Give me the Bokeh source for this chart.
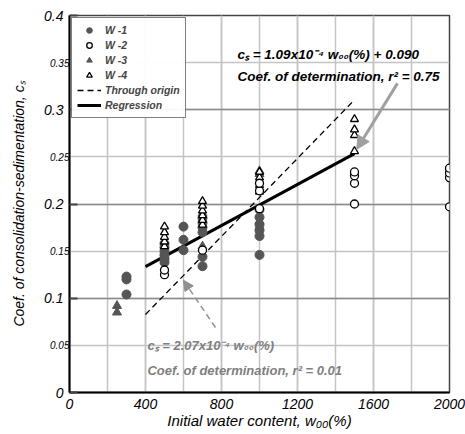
from bokeh.plotting import figure
from bokeh.models import (SingleIntervalTicker, FixedTicker, LinearAxis, Legend, LegendItem, Label,
                          Arrow, NormalHead)
from bokeh.embed import file_html
from bokeh.resources import INLINE

# ---- data ----
w1_x = [300, 300, 300, 500, 500, 500, 500, 500, 500, 600, 600, 600,
        700, 700, 700, 700, 700, 700, 1000, 1000, 1000, 1000, 1000, 1000]
w1_y = [0.104, 0.120, 0.123, 0.138, 0.142, 0.146, 0.150, 0.154, 0.158, 0.151, 0.162, 0.176,
        0.134, 0.144, 0.170, 0.175, 0.180, 0.185, 0.146, 0.166, 0.172, 0.178, 0.186, 0.194]
w2_x = [500, 500, 700, 1000, 1000, 1000, 1500, 1500, 1500, 1500, 2000, 2000, 2000, 2000]
w2_y = [0.125, 0.130, 0.151, 0.195, 0.214, 0.222, 0.200, 0.222, 0.230, 0.234,
        0.197, 0.228, 0.233, 0.238]
w3_x = [250, 250, 500, 500, 700, 700, 1000, 1000, 1000, 1000]
w3_y = [0.085, 0.092, 0.143, 0.148, 0.155, 0.190, 0.176, 0.182, 0.232, 0.235]
w4_x = [500, 500, 500, 500, 500, 700, 700, 700, 700, 700, 700,
        1000, 1000, 1000, 1000, 1500, 1500, 1500, 1500]
w4_y = [0.155, 0.160, 0.165, 0.170, 0.176, 0.178, 0.183, 0.188, 0.193, 0.198, 0.203,
        0.213, 0.220, 0.228, 0.234, 0.256, 0.273, 0.279, 0.290]

fit_x = [400, 1500]
reg_slope, reg_icpt = 1.09e-4, 0.090
orig_slope = 2.07e-4
reg_y = [reg_slope * v + reg_icpt for v in fit_x]
orig_y = [orig_slope * v for v in fit_x]

minor_y_ticks = [0.05, 0.15, 0.25, 0.35]
minor_y_labels = ["0.05", "0.15", "0.25", "0.35"]

reg_text = ["cₛ = 1.09x10⁻⁴ w₀₀(%) + 0.090", "Coef. of determination, r² = 0.75"]
orig_text = ["cₛ = 2.07x10⁻⁴ w₀₀(%)", "Coef. of determination, r² = 0.01"]
reg_text_pos = (884, [0.359, 0.335])
orig_text_pos = (410, [0.050, 0.0235])
reg_arrow = (1726, 0.328, 1512, 0.258)
orig_arrow = (768, 0.069, 600, 0.119)

FONT = "Liberation Sans"

p = figure(width=465, height=434, x_range=(0, 2000), y_range=(0, 0.4),
           output_backend="svg", toolbar_location=None,
           min_border_left=69, min_border_right=16, min_border_top=15, min_border_bottom=42)
p.background_fill_color = "white"
p.border_fill_color = "white"
p.outline_line_color = "#444444"
p.outline_line_width = 1.5

xt = SingleIntervalTicker(interval=400, num_minor_ticks=2)
yt = SingleIntervalTicker(interval=0.1, num_minor_ticks=2)
p.xaxis.ticker = xt
p.yaxis.ticker = yt
p.xgrid.ticker = xt
p.ygrid.ticker = yt
p.xgrid.grid_line_color = "#c4c4c4"
p.xgrid.grid_line_width = 1.5
p.xgrid.minor_grid_line_color = "#c4c4c4"
p.xgrid.minor_grid_line_width = 1.5
p.ygrid.grid_line_color = "#8a8a8a"
p.ygrid.grid_line_width = 1.3
p.ygrid.minor_grid_line_color = "#c4c4c4"
p.ygrid.minor_grid_line_width = 1.5

for ax in (p.xaxis[0], p.yaxis[0]):
    ax.axis_line_color = "black"
    ax.axis_line_width = 2
    ax.major_tick_in = 8
    ax.major_tick_out = 0
    ax.minor_tick_in = 0
    ax.minor_tick_out = 0
    ax.major_tick_line_color = "#444444"
    ax.major_tick_line_width = 2
    ax.major_label_text_font = FONT
    ax.major_label_text_font_style = "italic"
    ax.major_label_text_font_size = "14px"
    ax.major_label_text_color = "black"
    ax.axis_label_text_font = FONT
    ax.axis_label_text_font_style = "italic"
    ax.axis_label_text_color = "black"
p.xaxis.major_tick_in = 0
p.xaxis.major_label_standoff = 6
p.yaxis.major_label_standoff = 6
p.yaxis.major_label_overrides = {0: "0", 0.1: "0.1", 0.2: "0.2", 0.3: "0.3", 0.4: "0.4"}
p.xaxis.axis_label = "Initial water content, w₀₀(%)"
p.xaxis.axis_label_text_font_size = "15px"
p.xaxis.axis_label_standoff = 0

# second left axis: minor tick labels (smaller)
minor_ax = LinearAxis(ticker=FixedTicker(ticks=minor_y_ticks),
                      major_label_overrides={v: t for v, t in zip(minor_y_ticks, minor_y_labels)})
minor_ax.axis_line_color = None
minor_ax.major_tick_line_color = None
minor_ax.minor_tick_line_color = None
minor_ax.major_tick_in = 0
minor_ax.major_tick_out = 0
minor_ax.minor_tick_out = 0
minor_ax.major_label_standoff = -28
minor_ax.major_label_text_font = FONT
minor_ax.major_label_text_font_style = "italic"
minor_ax.major_label_text_font_size = "10px"
minor_ax.major_label_text_color = "black"
minor_ax.axis_label = "Coef. of consolidation-sedimentation, cₛ"
minor_ax.axis_label_text_font = FONT
minor_ax.axis_label_text_font_style = "italic"
minor_ax.axis_label_text_font_size = "14px"
minor_ax.axis_label_text_color = "black"
minor_ax.axis_label_standoff = 20
p.add_layout(minor_ax, "left")

# lines
r_orig = p.line(fit_x, orig_y, line_color="black", line_width=1.3, line_dash="6 4")
r_reg = p.line(fit_x, reg_y, line_color="black", line_width=3)

# markers
r1 = p.scatter(w1_x, w1_y, marker="circle", size=9, fill_color="#555555", line_color="#555555")
r3 = p.scatter(w3_x, w3_y, marker="triangle", size=9, fill_color="#555555", line_color="#555555")
r4 = p.scatter(w4_x, w4_y, marker="triangle", size=8, fill_color="white", line_color="black", line_width=1.3)
r2 = p.scatter(w2_x, w2_y, marker="circle", size=8, fill_color="white", line_color="black", line_width=1.3)

# annotations
for i, t in enumerate(reg_text):
    p.add_layout(Label(x=reg_text_pos[0], y=reg_text_pos[1][i], text=t, text_font=FONT,
                       text_font_style="bold italic", text_font_size="13.5px",
                       text_color="black", text_baseline="middle"))
for i, t in enumerate(orig_text):
    p.add_layout(Label(x=orig_text_pos[0], y=orig_text_pos[1][i], text=t, text_font=FONT,
                       text_font_style="bold italic", text_font_size="13px",
                       text_color="#808080", text_baseline="middle"))

p.add_layout(Arrow(x_start=reg_arrow[0], y_start=reg_arrow[1], x_end=reg_arrow[2], y_end=reg_arrow[3],
                   line_color="#a0a0a0", line_width=3,
                   end=NormalHead(size=13, fill_color="#a0a0a0", line_color="#a0a0a0")))
p.add_layout(Arrow(x_start=orig_arrow[0], y_start=orig_arrow[1], x_end=orig_arrow[2], y_end=orig_arrow[3],
                   line_color="#909090", line_width=1.5, line_dash="6 4",
                   end=NormalHead(size=10, fill_color="#909090", line_color="#909090")))

legend = Legend(items=[LegendItem(label="W -1", renderers=[r1]),
                       LegendItem(label="W -2", renderers=[r2]),
                       LegendItem(label="W -3", renderers=[r3]),
                       LegendItem(label="W -4", renderers=[r4]),
                       LegendItem(label="Through origin", renderers=[r_orig]),
                       LegendItem(label="Regression", renderers=[r_reg])],
                location="top_left")
legend.label_text_font = FONT
legend.label_text_font_style = "bold italic"
legend.label_text_font_size = "10.5px"
legend.label_height = 14
legend.glyph_height = 14
legend.glyph_width = 24
legend.spacing = 1
legend.padding = 5
legend.margin = 2
legend.border_line_color = "black"
legend.border_line_width = 1.5
legend.label_standoff = 4
p.add_layout(legend)

open("out.html", "w").write(file_html(p, INLINE))
